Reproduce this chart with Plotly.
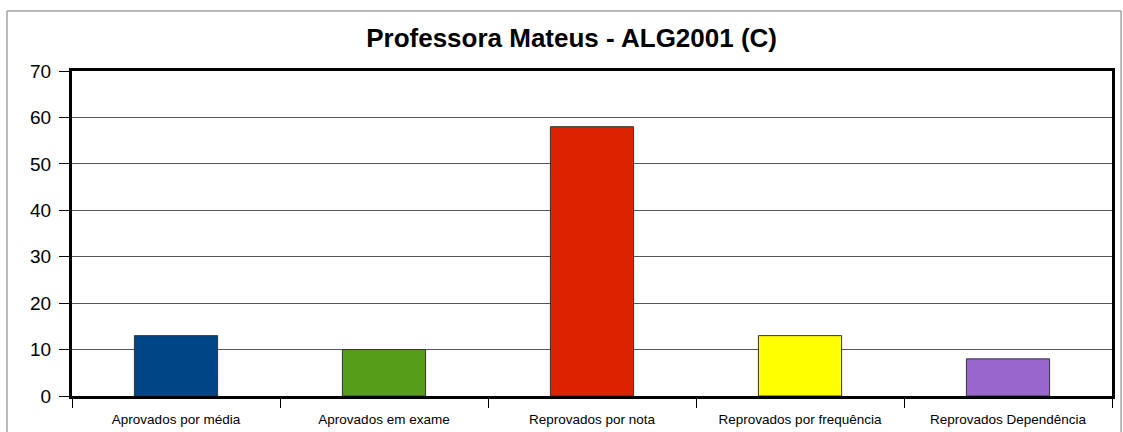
import plotly.graph_objects as go

categories = ["Aprovados por média", "Aprovados em exame", "Reprovados por nota",
              "Reprovados por frequência", "Reprovados Dependência"]
values = [13, 10, 58, 13, 8]
colors = ["#004586", "#579d1c", "#dd2200", "#ffff00", "#9966cc"]
y_ticks = [0, 10, 20, 30, 40, 50, 60, 70]

fig = go.Figure(go.Bar(
    x=categories, y=values,
    marker=dict(color=colors, line=dict(color="#333333", width=1)),
    width=0.4,
))

fig.update_layout(
    width=1123, height=432,
    margin=dict(l=72, r=11, t=71, b=36),
    paper_bgcolor="white", plot_bgcolor="white",
    showlegend=False,
    font=dict(family="Liberation Sans, Arial, sans-serif", color="#000000"),
    title=dict(text="<b>Professora Mateus - ALG2001 (C)</b>", x=0.509, xanchor="center",
               y=0.912, yanchor="middle", font=dict(size=26, color="#000000")),
)
fig.update_xaxes(
    automargin=False,
    showline=True, linecolor="#000000", linewidth=3, mirror=True,
    ticks="outside", tickson="boundaries", ticklen=9, tickcolor="#000000", tickwidth=1,
    tickfont=dict(size=13.5, color="#000000"), ticklabelstandoff=9,
    showgrid=False,
)
fig.update_yaxes(
    automargin=False,
    range=[0, 70], tickvals=y_ticks,
    showline=True, linecolor="#000000", linewidth=3, mirror=True,
    ticks="outside", ticklen=10, tickcolor="#000000", tickwidth=1,
    tickfont=dict(size=19, color="#000000"), ticklabelstandoff=4,
    showgrid=True, gridcolor="#555555", gridwidth=1,
    zeroline=False,
)
fig.add_shape(type="rect", xref="paper", yref="paper",
              x0=-0.0625, x1=1.0087, y0=-0.2, y1=1.1846,
              line=dict(color="#777777", width=1), layer="below")
fig.write_html("out.html", config={"displayModeBar": False},
               post_script="document.body.style.margin='0';document.body.style.padding='0';")
